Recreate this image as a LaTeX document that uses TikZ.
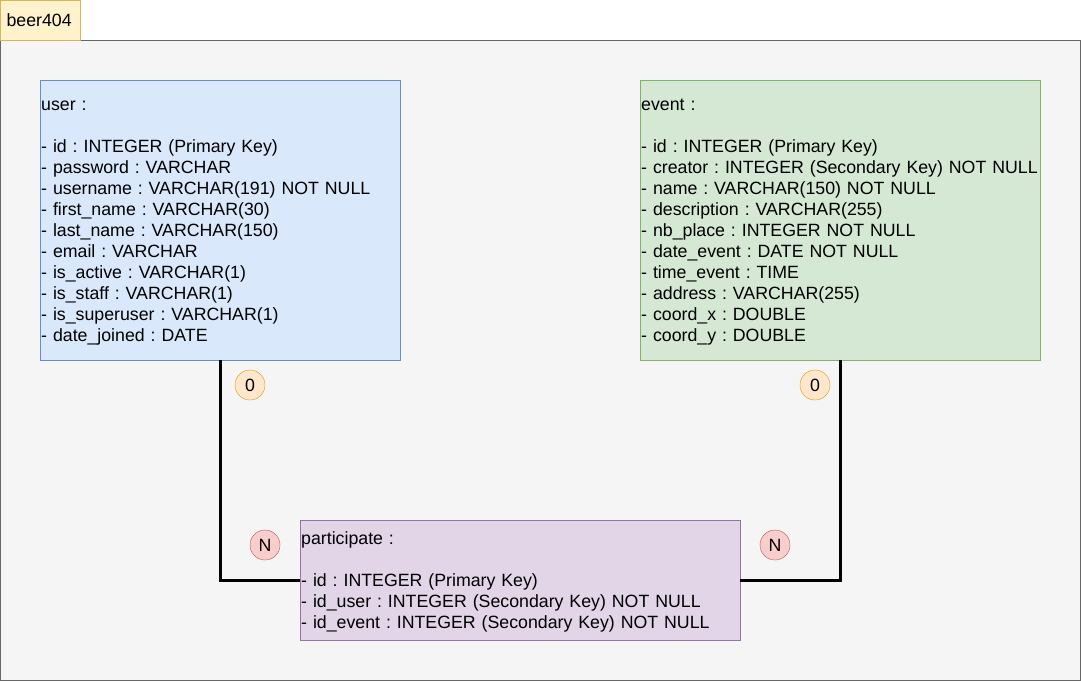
\documentclass[tikz,border=0pt]{standalone}
\usepackage{fontspec}
\setmainfont{Liberation Sans}
\usetikzlibrary{positioning}

\definecolor{tabfill}{HTML}{FFF2CC}   \definecolor{tabline}{HTML}{D6B656}
\definecolor{framefill}{HTML}{F5F5F5} \definecolor{frameline}{HTML}{666666}
\definecolor{userfill}{HTML}{DAE8FC}  \definecolor{userline}{HTML}{6C8EBF}
\definecolor{eventfill}{HTML}{D5E8D4} \definecolor{eventline}{HTML}{82B366}
\definecolor{partfill}{HTML}{E1D5E7}  \definecolor{partline}{HTML}{9673A6}
\definecolor{zerofill}{HTML}{FFE6CC}  \definecolor{zeroline}{HTML}{D79B00}
\definecolor{manyfill}{HTML}{F8CECC}  \definecolor{manyline}{HTML}{B85450}

% struts so every table block has the same line box
\newcommand{\headstrut}{\rule{0pt}{16.6pt}}
\newcommand{\footstrut}{\rule[-4.4pt]{0pt}{0pt}}

\frenchspacing

\begin{document}
\begin{tikzpicture}[x=1pt, y=-1pt,
    txt/.style={font=\fontsize{17.75}{21}\selectfont},
    table/.style={txt, draw, rectangle, inner xsep=1pt, inner ysep=0pt,
                  align=left, anchor=north west},
    card/.style={txt, circle, draw, minimum size=30pt, inner sep=0pt},
    link/.style={line width=3pt}]

  \useasboundingbox (0,0) rectangle (1081,681);

  % frame and tab
  \node[draw=frameline, fill=framefill, minimum width=1080pt, minimum height=640pt,
        inner sep=0pt, anchor=north west] (frame) at (0,40) {};
  \node[txt, draw=tabline, fill=tabfill, minimum width=80pt, minimum height=40pt,
        inner sep=0pt, anchor=north west] (tab) at (0,0) {};
  \node[txt, anchor=west] (tabtext) at (3,20) {beer404};

  % tables
  \node[table, draw=userline, fill=userfill, text width=358pt,
        minimum height=280pt] (user) at (40,80) {%
    \headstrut user :\\[21pt]
    - id : INTEGER (Primary Key)\\
    - password : VARCHAR\\
    - username : VARCHAR(191) NOT NULL\\
    - first\_name : VARCHAR(30)\\
    - last\_name : VARCHAR(150)\\
    - email : VARCHAR\\
    - is\_active : VARCHAR(1)\\
    - is\_staff : VARCHAR(1)\\
    - is\_superuser : VARCHAR(1)\\
    - date\_joined : DATE\footstrut};

  \node[table, draw=eventline, fill=eventfill, text width=398pt,
        minimum height=280pt] (event) at (640,80) {%
    \headstrut event :\\[21pt]
    - id : INTEGER (Primary Key)\\
    - creator : INTEGER (Secondary Key) NOT NULL\\
    - name : VARCHAR(150) NOT NULL\\
    - description : VARCHAR(255)\\
    - nb\_place : INTEGER NOT NULL\\
    - date\_event : DATE NOT NULL\\
    - time\_event : TIME\\
    - address : VARCHAR(255)\\
    - coord\_x : DOUBLE\\
    - coord\_y : DOUBLE\footstrut};

  \node[table, draw=partline, fill=partfill, text width=438pt,
        minimum height=120pt] (participate) at (300,520) {%
    \headstrut participate :\\[21pt]
    - id : INTEGER (Primary Key)\\
    - id\_user : INTEGER (Secondary Key) NOT NULL\\
    - id\_event : INTEGER (Secondary Key) NOT NULL\footstrut};

  % relations
  \draw[link] (user.south) |- (participate.west);
  \draw[link] (event.south) |- (participate.east);

  % cardinalities
  \node[card, draw=zeroline, fill=zerofill] (userzero)  at (250,385) {0};
  \node[card, draw=zeroline, fill=zerofill] (eventzero) at (815,385) {0};
  \node[card, draw=manyline, fill=manyfill] (usermany)  at (265,545) {N};
  \node[card, draw=manyline, fill=manyfill] (eventmany) at (775,545) {N};

\end{tikzpicture}
\end{document}
